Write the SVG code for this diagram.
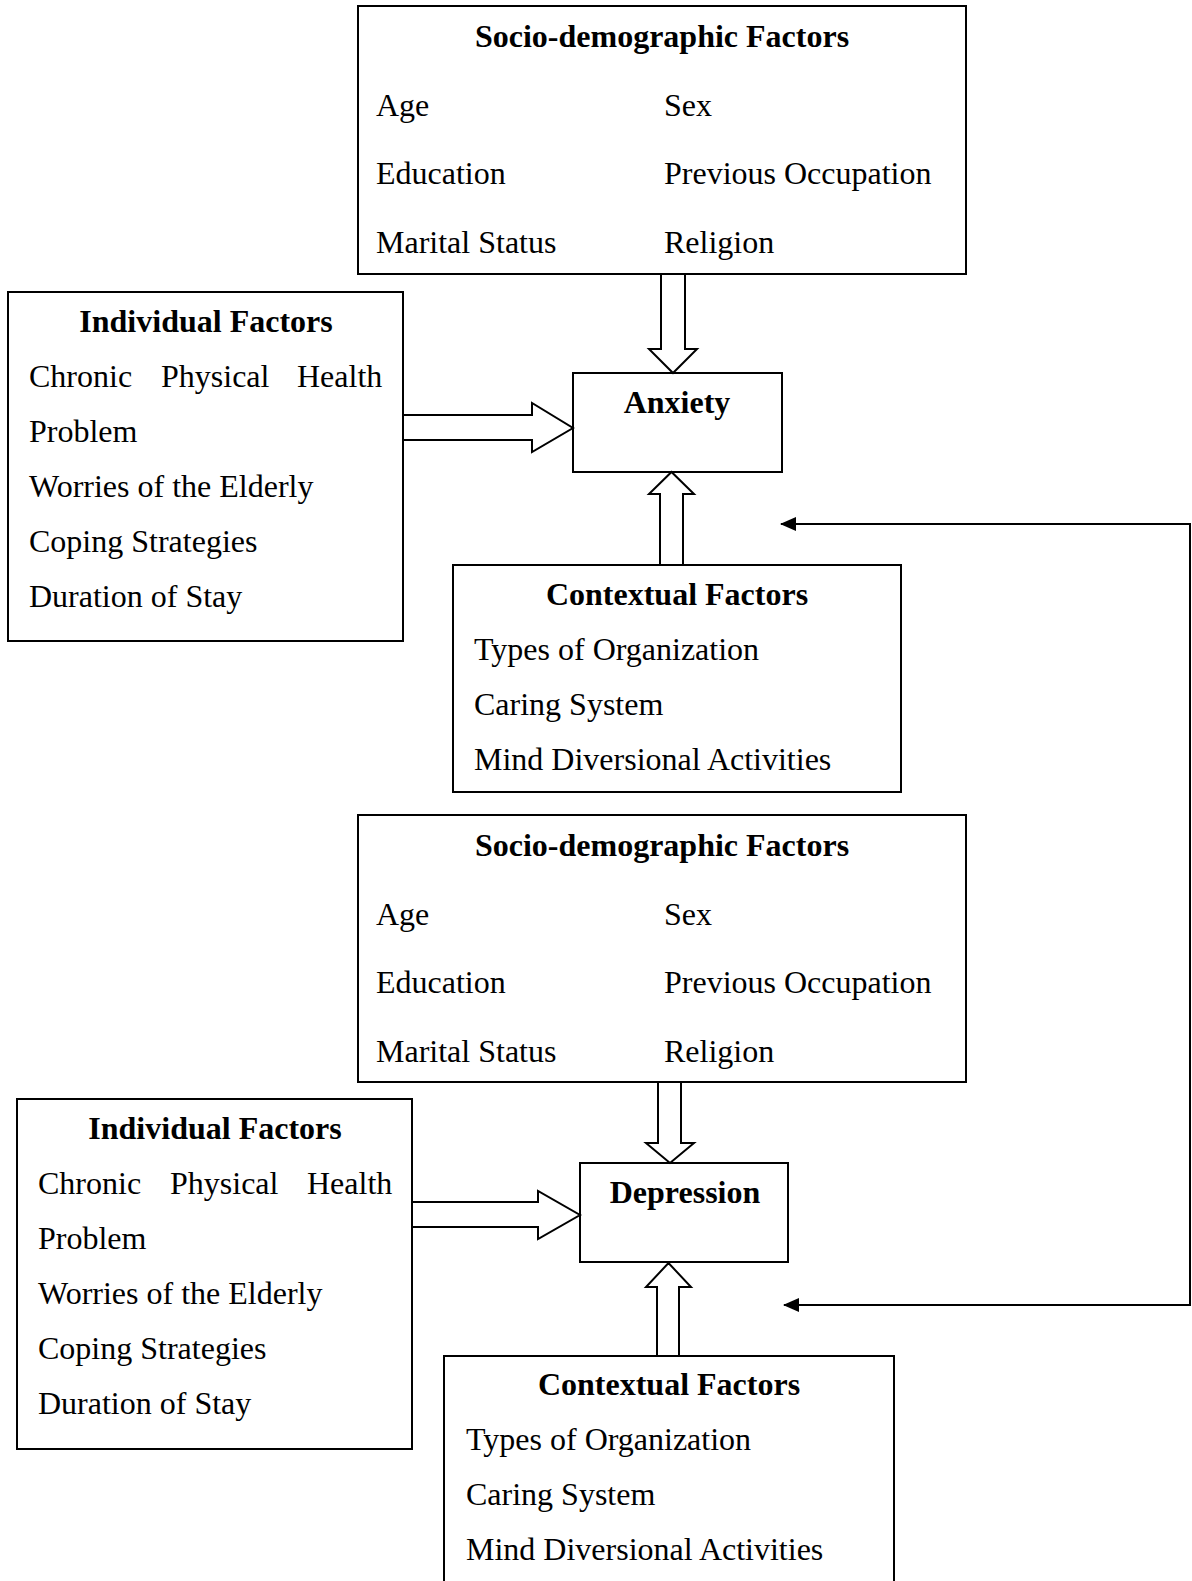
<svg xmlns="http://www.w3.org/2000/svg" width="1192" height="1581" viewBox="0 0 1192 1581">
<style>
.box{fill:#fff;stroke:#000;stroke-width:2}
.t{font-family:"Liberation Serif","Times New Roman",serif;font-size:32px;fill:#000}
.b{font-weight:bold}
.m{text-anchor:middle}
.blk{fill:#fff;stroke:#000;stroke-width:2;stroke-linejoin:miter}
.ln{fill:none;stroke:#000;stroke-width:2}
</style>
<defs>
<marker id="ah" viewBox="0 0 16 14" refX="15" refY="7" markerWidth="16" markerHeight="14" markerUnits="userSpaceOnUse" orient="auto-start-reverse">
<path d="M0,0 L16,7 L0,14 z" fill="#000"/>
</marker>
</defs>
<rect width="1192" height="1581" fill="#fff"/>
<g id="nodes">
<g id="socio1">
<rect class="box" x="358" y="6" width="608" height="268"/>
<text class="t b m" x="662" y="47">Socio-demographic Factors</text>
<text class="t" x="376" y="116">Age</text>
<text class="t" x="664" y="116">Sex</text>
<text class="t" x="376" y="184">Education</text>
<text class="t" x="664" y="184">Previous Occupation</text>
<text class="t" x="376" y="253">Marital Status</text>
<text class="t" x="664" y="253">Religion</text>
</g>
<g id="individual1">
<rect class="box" x="8" y="292" width="395" height="349"/>
<text class="t b m" x="206" y="332">Individual Factors</text>
<text class="t" y="387"><tspan x="29">Chronic</tspan><tspan x="161">Physical</tspan><tspan x="297">Health</tspan></text>
<text class="t" x="29" y="442">Problem</text>
<text class="t" x="29" y="497">Worries of the Elderly</text>
<text class="t" x="29" y="552">Coping Strategies</text>
<text class="t" x="29" y="607">Duration of Stay</text>
</g>
<g id="anxiety">
<rect class="box" x="573" y="373" width="209" height="99"/>
<text class="t b m" x="677" y="413">Anxiety</text>
</g>
<g id="contextual1">
<rect class="box" x="453" y="565" width="448" height="227"/>
<text class="t b m" x="677" y="605">Contextual Factors</text>
<text class="t" x="474" y="660">Types of Organization</text>
<text class="t" x="474" y="715">Caring System</text>
<text class="t" x="474" y="770">Mind Diversional Activities</text>
</g>
<g id="socio2">
<rect class="box" x="358" y="815" width="608" height="267"/>
<text class="t b m" x="662" y="856">Socio-demographic Factors</text>
<text class="t" x="376" y="925">Age</text>
<text class="t" x="664" y="925">Sex</text>
<text class="t" x="376" y="993">Education</text>
<text class="t" x="664" y="993">Previous Occupation</text>
<text class="t" x="376" y="1062">Marital Status</text>
<text class="t" x="664" y="1062">Religion</text>
</g>
<g id="individual2">
<rect class="box" x="17" y="1099" width="395" height="350"/>
<text class="t b m" x="215" y="1139">Individual Factors</text>
<text class="t" y="1194"><tspan x="38">Chronic</tspan><tspan x="170">Physical</tspan><tspan x="307">Health</tspan></text>
<text class="t" x="38" y="1249">Problem</text>
<text class="t" x="38" y="1304">Worries of the Elderly</text>
<text class="t" x="38" y="1359">Coping Strategies</text>
<text class="t" x="38" y="1414">Duration of Stay</text>
</g>
<g id="depression">
<rect class="box" x="580" y="1163" width="208" height="99"/>
<text class="t b m" x="685" y="1203">Depression</text>
</g>
<g id="contextual2">
<rect class="box" x="444" y="1356" width="450" height="240"/>
<text class="t b m" x="669" y="1395">Contextual Factors</text>
<text class="t" x="466" y="1450">Types of Organization</text>
<text class="t" x="466" y="1505">Caring System</text>
<text class="t" x="466" y="1560">Mind Diversional Activities</text>
</g>
</g>
<g id="connectors">
<polygon class="blk" points="661,274 661,349 649,349 673,373 697,349 685,349 685,274"/>
<polygon class="blk" points="403,415 532,415 532,403 573,428 532,452 532,440 403,440"/>
<polygon class="blk" points="660,565 660,494 649,494 671.5,472 694,494 683,494 683,565"/>
<polygon class="blk" points="658,1082 658,1143 646,1143 670,1163 694,1143 681,1143 681,1082"/>
<polygon class="blk" points="412,1202 538,1202 538,1191 580,1215 538,1239 538,1227 412,1227"/>
<polygon class="blk" points="657,1356 657,1287 646,1287 668.5,1263 691,1287 679,1287 679,1356"/>
<path class="ln" d="M781,524 H1190 V1305 H784" marker-start="url(#ah)" marker-end="url(#ah)"/>
</g>
</svg>
